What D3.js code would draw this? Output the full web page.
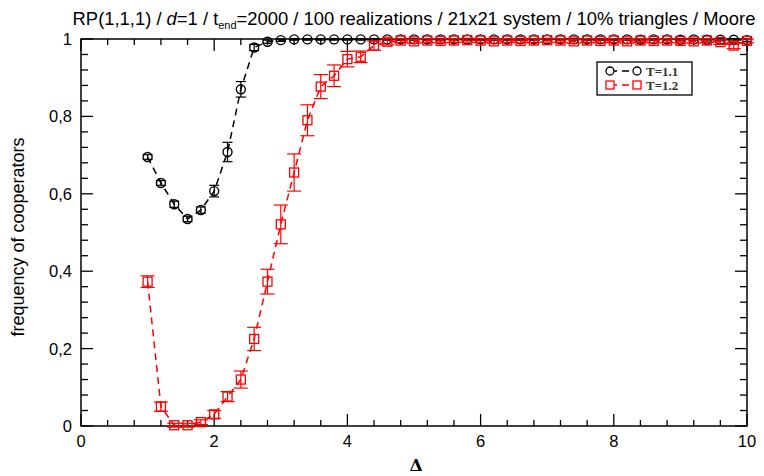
<!DOCTYPE html>
<html><head><meta charset="utf-8">
<script src="https://cdn.jsdelivr.net/npm/d3@7"></script>
<style>html,body{margin:0;padding:0;background:#fff;overflow:hidden}svg{display:block}</style>
</head><body>
<svg id="c" width="764" height="476"></svg>
<script>
const deltas = [1.0,1.2,1.4,1.6,1.8,2.0,2.2,2.4,2.6,2.8,3.0,3.2,3.4,3.6,3.8,4.0,4.2,4.4,4.6,4.8,5.0,5.2,5.4,5.6,5.8,6.0,6.2,6.4,6.6,6.8,7.0,7.2,7.4,7.6,7.8,8.0,8.2,8.4,8.6,8.8,9.0,9.2,9.4,9.6,9.8,10.0];
const t11 = [0.695,0.628,0.573,0.535,0.558,0.607,0.708,0.870,0.978,0.993,0.997,0.999,0.999,0.999,0.999,0.999,0.999,0.999,0.999,0.999,0.999,0.999,0.999,0.999,0.999,0.999,0.999,0.999,0.999,0.999,0.999,0.999,0.999,0.999,0.999,0.999,0.999,0.998,0.999,0.999,0.998,0.999,0.998,0.998,0.998,0.997];
const t11err = [0.006,0.006,0.008,0.007,0.008,0.015,0.025,0.02,0.008,0.004,0.003,0.002,0.002,0.002,0.002,0.002,0.002,0.002,0.002,0.002,0.002,0.002,0.002,0.002,0.002,0.002,0.002,0.002,0.002,0.002,0.002,0.002,0.002,0.002,0.002,0.002,0.002,0.003,0.002,0.002,0.003,0.002,0.003,0.003,0.003,0.003];
const t12 = [0.373,0.050,0.002,0.002,0.010,0.030,0.076,0.120,0.225,0.373,0.521,0.655,0.790,0.877,0.905,0.948,0.954,0.983,0.993,0.996,0.994,0.996,0.995,0.996,0.997,0.996,0.994,0.996,0.995,0.996,0.997,0.996,0.994,0.996,0.995,0.996,0.994,0.996,0.995,0.996,0.995,0.994,0.996,0.992,0.983,0.995];
const t12err = [0.015,0.012,0.005,0.005,0.006,0.010,0.013,0.022,0.030,0.032,0.050,0.048,0.040,0.031,0.028,0.020,0.015,0.012,0.008,0.005,0.005,0.005,0.005,0.005,0.005,0.005,0.005,0.005,0.005,0.005,0.005,0.005,0.005,0.005,0.005,0.005,0.005,0.005,0.005,0.005,0.005,0.005,0.005,0.006,0.008,0.005];
const xTicks = [0,2,4,6,8,10];
const yTicks = [0,0.2,0.4,0.6,0.8,1];
const yTickLabels = ["0","0,2","0,4","0,6","0,8","1"];
const seriesNames = ["T=1.1","T=1.2"];

const svg = d3.select("#c");
const L=81,R=747,T=39,B=426;
const x = d3.scaleLinear().domain([0,10]).range([L,R]);
const y = d3.scaleLinear().domain([0,1]).range([B,T]);
const font = "Liberation Sans, Arial, sans-serif";

// frame
svg.append("rect").attr("x",L).attr("y",T).attr("width",R-L).attr("height",B-T)
  .attr("fill","none").attr("stroke","#000").attr("stroke-width",1.5);

// ticks (inward on all four sides)
const xMinor = d3.range(0,10.0001,0.4).filter(v=>Math.abs(v/2-Math.round(v/2))>1e-6);
const yMinor = d3.range(0,1.0001,0.04).filter(v=>Math.abs(v/0.2-Math.round(v/0.2))>1e-6);
const tk = svg.append("g").attr("stroke","#000").attr("stroke-width",1.3);
xTicks.forEach(v=>{tk.append("line").attr("x1",x(v)).attr("x2",x(v)).attr("y1",B).attr("y2",B-12);
  tk.append("line").attr("x1",x(v)).attr("x2",x(v)).attr("y1",T).attr("y2",T+12);});
xMinor.forEach(v=>{tk.append("line").attr("x1",x(v)).attr("x2",x(v)).attr("y1",B).attr("y2",B-6);
  tk.append("line").attr("x1",x(v)).attr("x2",x(v)).attr("y1",T).attr("y2",T+6);});
yTicks.forEach(v=>{tk.append("line").attr("x1",L).attr("x2",L+12).attr("y1",y(v)).attr("y2",y(v));
  tk.append("line").attr("x1",R).attr("x2",R-12).attr("y1",y(v)).attr("y2",y(v));});
yMinor.forEach(v=>{tk.append("line").attr("x1",L).attr("x2",L+7).attr("y1",y(v)).attr("y2",y(v));
  tk.append("line").attr("x1",R).attr("x2",R-7).attr("y1",y(v)).attr("y2",y(v));});

// tick labels
svg.append("g").selectAll("text").data(xTicks).join("text")
  .attr("x",d=>x(d)).attr("y",B+21).attr("text-anchor","middle")
  .attr("font-family",font).attr("font-size",16.5).text(d=>d);
svg.append("g").selectAll("text").data(yTicks).join("text")
  .attr("x",L-9).attr("y",d=>y(d)+6).attr("text-anchor","end")
  .attr("font-family",font).attr("font-size",16.5).text((d,i)=>yTickLabels[i]);

// axis labels
svg.append("text").attr("x",416).attr("y",471).attr("text-anchor","middle")
  .attr("font-family","DejaVu Serif, serif").attr("font-weight","bold").attr("font-size",17).text("Δ");
svg.append("text").attr("transform","translate(24,237) rotate(-90)").attr("text-anchor","middle")
  .attr("font-family",font).attr("font-size",18).text("frequency of cooperators");

// title
const tt = svg.append("text").attr("x",414).attr("y",25).attr("text-anchor","middle")
  .attr("font-family",font).attr("font-size",18.4);
tt.append("tspan").text("RP(1,1,1) / ");
tt.append("tspan").attr("font-style","italic").text("d");
tt.append("tspan").text("=1 / t");
tt.append("tspan").attr("font-size",11).attr("dy",4).text("end");
tt.append("tspan").attr("dy",-4).text("=2000 / 100 realizations / 21x21 system / 10% triangles / Moore");

// series
const series = [
  {name:seriesNames[0], vals:t11, err:t11err, color:"#000", shape:"circle", cap:5},
  {name:seriesNames[1], vals:t12, err:t12err, color:"#f00", shape:"square", cap:7}
];
const line = d3.line().x(d=>x(d[0])).y(d=>y(d[1]));
series.forEach(s=>{
  const pts = deltas.map((d,i)=>[d,s.vals[i],s.err[i]]);
  const g = svg.append("g");
  g.append("path").attr("d",line(pts)).attr("fill","none").attr("stroke",s.color)
    .attr("stroke-width",1.5).attr("stroke-dasharray","7,5");
  pts.forEach(p=>{
    const cx=x(p[0]), cy=y(p[1]);
    if(s.shape==="circle"){
      g.append("circle").attr("cx",cx).attr("cy",cy).attr("r",4.5).attr("fill","none").attr("stroke",s.color).attr("stroke-width",1.4);
    } else {
      g.append("rect").attr("x",cx-4.5).attr("y",cy-4.5).attr("width",9).attr("height",9).attr("fill","none").attr("stroke",s.color).attr("stroke-width",1.3);
    }
    const yt=y(p[1]+p[2]), yb=y(p[1]-p[2]);
    const eb = g.append("g").attr("stroke",s.color).attr("stroke-width",1.2);
    eb.append("line").attr("x1",cx).attr("x2",cx).attr("y1",yt).attr("y2",yb);
    eb.append("line").attr("x1",cx-s.cap).attr("x2",cx+s.cap).attr("y1",yt).attr("y2",yt);
    eb.append("line").attr("x1",cx-s.cap).attr("x2",cx+s.cap).attr("y1",yb).attr("y2",yb);
  });
});

// legend
const lg = svg.append("g");
lg.append("rect").attr("x",597).attr("y",62).attr("width",95).attr("height",33)
  .attr("fill","#fff").attr("stroke","#000").attr("stroke-width",1.3);
series.forEach((s,i)=>{
  const ly = 71 + i*14;
  lg.append("line").attr("x1",610).attr("x2",637).attr("y1",ly).attr("y2",ly)
    .attr("stroke",s.color).attr("stroke-width",1.5).attr("stroke-dasharray","7,5");
  [610,637].forEach(mx=>{
    if(s.shape==="circle") lg.append("circle").attr("cx",mx).attr("cy",ly).attr("r",4).attr("fill","#fff").attr("stroke",s.color).attr("stroke-width",1.3);
    else lg.append("rect").attr("x",mx-4).attr("y",ly-4).attr("width",8).attr("height",8).attr("fill","#fff").attr("stroke",s.color).attr("stroke-width",1.3);
  });
  lg.append("text").attr("x",646).attr("y",ly+4.5).attr("font-family","Liberation Serif, Times New Roman, serif")
    .attr("font-size",13).attr("font-weight","bold").attr("fill","#333").text(s.name);
});
</script>
</body></html>
